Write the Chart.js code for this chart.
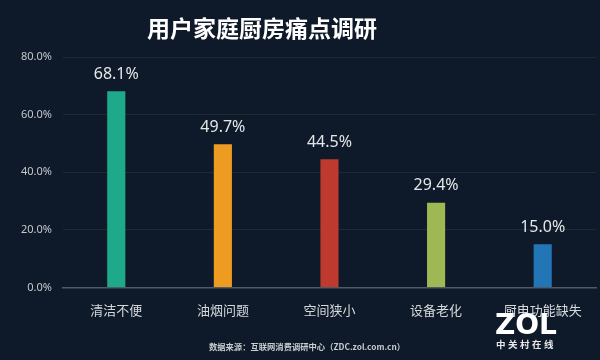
<!DOCTYPE html>
<html><head><meta charset="utf-8">
<script src="https://cdn.jsdelivr.net/npm/chart.js@4.4.1/dist/chart.umd.min.js"></script>
<style>html,body{margin:0;padding:0;background:#0e1a29;}#wrap{width:600px;height:360px;}</style>
</head><body><div id="wrap"><canvas id="c" width="600" height="360"></canvas></div>
<script>
const categories = ['清洁不便','油烟问题','空间狭小','设备老化','厨电功能缺失'];
const values = [68.1, 49.7, 44.5, 29.4, 15.0];
const barColors = ['#1fa98b','#ee9b22','#bf3a2e','#9fb853','#2376b5'];
const yTicks = [0, 20, 40, 60, 80];
const titleText = '用户家庭厨房痛点调研';
const sourceText = '数据来源：互联网消费调研中心（ZDC.zol.com.cn）';
const FF = "'Noto Sans', 'Noto Sans CJK SC', sans-serif";

const extras = {
  id: 'extras',
  beforeDraw(chart) {
    const c = chart.ctx;
    c.save();
    c.fillStyle = '#0e1a29';
    c.fillRect(0, 0, chart.width, chart.height);
    c.restore();
  },
  afterDatasetsDraw(chart) {
    const c = chart.ctx;
    c.save();
    c.fillStyle = '#ffffff';
    c.font = "bold 23px 'Noto Sans CJK SC', sans-serif";
    c.textAlign = 'center';
    c.textBaseline = 'middle';
    c.fillText(titleText, 262, 28);
    const meta = chart.getDatasetMeta(0);
    c.font = '16px ' + FF;
    c.fillStyle = '#e4e6e8';
    meta.data.forEach((bar, i) => {
      c.fillText(values[i].toFixed(1) + '%', bar.x, bar.y - 17);
    });
    c.font = "bold 8.3px 'Noto Sans CJK SC', sans-serif";
    c.fillStyle = '#c9ccd0';
    c.fillText(sourceText, 307, 347);
    c.fillStyle = '#ffffff';
    c.font = "900 28px 'DejaVu Sans', sans-serif";
    c.textAlign = 'left';
    c.fillText('ZOL', 495, 327);
    c.font = "bold 9.5px 'Noto Sans CJK SC', sans-serif";
    c.fillStyle = '#e8e8e8';
    const chars = '中关村在线';
    for (let k = 0; k < chars.length; k++) c.fillText(chars[k], 496 + k * 12, 344);
    c.restore();
  }
};

new Chart(document.getElementById('c'), {
  type: 'bar',
  data: {
    labels: categories,
    datasets: [{
      data: values,
      backgroundColor: barColors,
      borderWidth: 0,
      barPercentage: 0.17,
      categoryPercentage: 1.0
    }]
  },
  options: {
    responsive: false,
    animation: false,
    devicePixelRatio: 1,
    layout: { padding: { top: 57, left: 10, right: 4, bottom: 33 } },
    plugins: { legend: { display: false }, tooltip: { enabled: false }, title: { display: false } },
    scales: {
      x: {
        grid: { display: false },
        border: { color: '#4f5b69', width: 1.5 },
        ticks: { color: '#d6d9dc', font: { size: 13, family: FF }, padding: 8 }
      },
      y: {
        min: 0, max: 80,
        afterBuildTicks(axis) { axis.ticks = yTicks.map(v => ({ value: v })); },
        grid: { color: 'rgba(255,255,255,0.07)', drawTicks: false },
        border: { display: false },
        ticks: {
          color: '#c4c8cc', font: { size: 11, family: FF }, padding: 11,
          callback: v => Number(v).toFixed(1) + '%'
        }
      }
    }
  },
  plugins: [extras]
});
</script></body></html>
